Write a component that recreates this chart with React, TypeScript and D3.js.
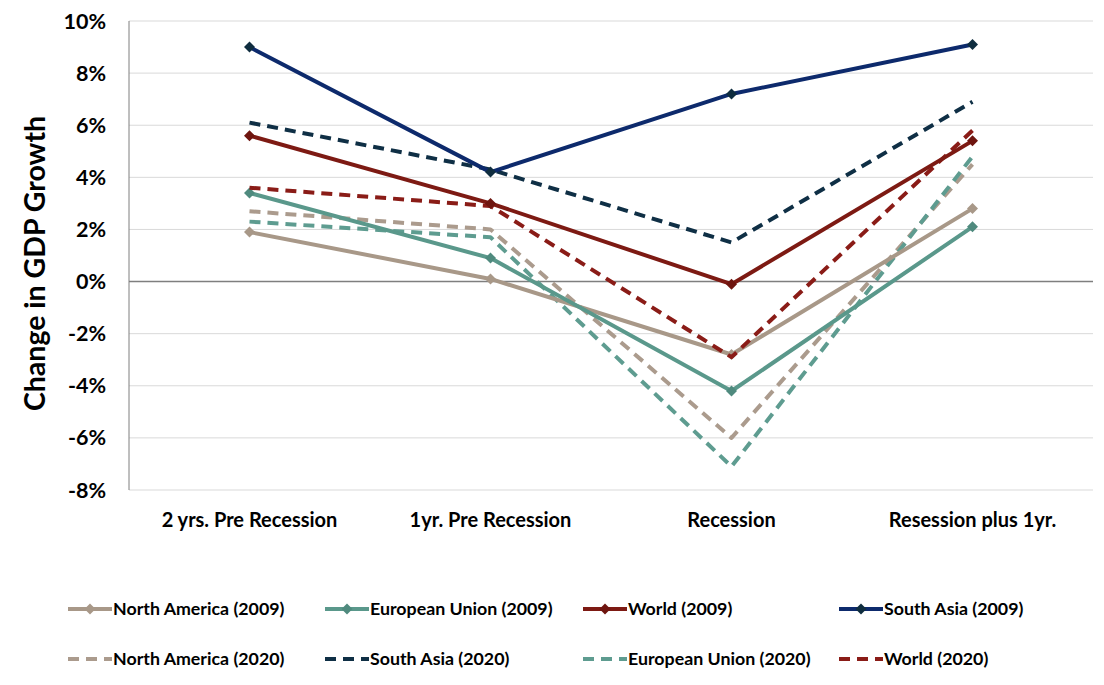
import React from "react";
import * as d3 from "d3";

const categories = ["2 yrs. Pre Recession", "1yr. Pre Recession", "Recession", "Resession plus 1yr."];
const yTicks = [-8, -6, -4, -2, 0, 2, 4, 6, 8, 10];

const naValues2009 = [1.9, 0.1, -2.8, 2.8];
const euValues2009 = [3.4, 0.9, -4.2, 2.1];
const worldValues2009 = [5.6, 3.0, -0.1, 5.4];
const saValues2009 = [9.0, 4.2, 7.2, 9.1];
const naValues2020 = [2.7, 2.0, -6.0, 4.5];
const saValues2020 = [6.1, 4.3, 1.5, 6.9];
const euValues2020 = [2.3, 1.7, -7.1, 4.8];
const worldValues2020 = [3.6, 2.9, -2.9, 5.8];

type Series = { name: string; values: number[]; color: string; marker: string; dashed: boolean };

const drawOrder: Series[] = [
  { name: "North America (2020)", values: naValues2020, color: "#ab9b8d", marker: "", dashed: true },
  { name: "European Union (2020)", values: euValues2020, color: "#5e9c90", marker: "", dashed: true },
  { name: "North America (2009)", values: naValues2009, color: "#a89888", marker: "#a89888", dashed: false },
  { name: "European Union (2009)", values: euValues2009, color: "#5a988b", marker: "#4f8a7e", dashed: false },
  { name: "World (2020)", values: worldValues2020, color: "#8a1c17", marker: "", dashed: true },
  { name: "World (2009)", values: worldValues2009, color: "#7d1a13", marker: "#6e150f", dashed: false },
  { name: "South Asia (2020)", values: saValues2020, color: "#0f2f45", marker: "", dashed: true },
  { name: "South Asia (2009)", values: saValues2009, color: "#0d2a6c", marker: "#0f2d3f", dashed: false },
];

const legendRows: string[][] = [
  ["North America (2009)", "European Union (2009)", "World (2009)", "South Asia (2009)"],
  ["North America (2020)", "South Asia (2020)", "European Union (2020)", "World (2020)"],
];

const W = 1104;
const H = 685;
const left = 129;
const right = 1093;
const top = 21;
const bottom = 490;
const font = "Lato, 'Open Sans', sans-serif";

function diamond(x: number, y: number, r: number) {
  return `M${x},${y - r}L${x + r},${y}L${x},${y + r}L${x - r},${y}Z`;
}

export default function App() {
  const x = d3.scaleBand<string>().domain(categories).range([left, right]);
  const y = d3.scaleLinear().domain([-8, 10]).range([bottom, top]);
  const cx = (c: string) => (x(c) as number) + x.bandwidth() / 2;
  const line = d3
    .line<number>()
    .x((_, i) => cx(categories[i]))
    .y((v) => y(v));
  const byName = new Map(drawOrder.map((s) => [s.name, s]));
  const legendX = [68, 325, 583, 839];
  const legendY = [609, 659];

  return (
    <svg width={W} height={H} style={{ position: "absolute", left: 0, top: 0, background: "#fff" }}>
      <rect x={0} y={0} width={W} height={H} fill="#fff" />
      {yTicks.map((t) => (
        <line key={t} x1={left} x2={right} y1={y(t)} y2={y(t)} stroke="#d9d9d9" strokeWidth={1} />
      ))}
      <line x1={left} x2={right} y1={y(0)} y2={y(0)} stroke="#7f7f7f" strokeWidth={1.5} />
      <line x1={left} x2={left} y1={top} y2={bottom} stroke="#7f7f7f" strokeWidth={1} />
      {yTicks.map((t) => (
        <text key={t} x={106} y={y(t)} dy="0.35em" textAnchor="end" fontFamily={font} fontWeight={700} fontSize={21.5} fill="#000">
          {`${t}%`}
        </text>
      ))}
      <text
        transform={`translate(45,${(top + bottom) / 2 + 8}) rotate(-90)`}
        textAnchor="middle"
        fontFamily={font}
        fontWeight={700}
        fontSize={28.5}
        fill="#000"
      >
        Change in GDP Growth
      </text>
      {categories.map((c) => (
        <text key={c} x={cx(c)} y={527} textAnchor="middle" fontFamily={font} fontWeight={700} fontSize={20} fill="#000">
          {c}
        </text>
      ))}
      {drawOrder.map((s) => (
        <g key={s.name}>
          <path
            d={line(s.values) as string}
            fill="none"
            stroke={s.color}
            strokeWidth={4}
            strokeDasharray={s.dashed ? "11,7" : undefined}
            strokeLinejoin="round"
          />
          {s.marker &&
            s.values.map((v, i) => (
              <path key={i} d={diamond(cx(categories[i]), y(v), 5.5)} fill={s.marker} />
            ))}
        </g>
      ))}
      {legendRows.map((row, ri) =>
        row.map((name, ci) => {
          const s = byName.get(name) as Series;
          const lx = legendX[ci];
          const ly = legendY[ri];
          return (
            <g key={name}>
              {s.dashed ? (
                <path d={`M${lx},${ly}L${lx + 44},${ly}`} stroke={s.color} strokeWidth={4} strokeDasharray="11,7" />
              ) : (
                <>
                  <path d={`M${lx},${ly}L${lx + 44},${ly}`} stroke={s.color} strokeWidth={4} />
                  <path d={diamond(lx + 22, ly, 5.5)} fill={s.marker} />
                </>
              )}
              <text x={lx + 45} y={ly} dy="0.35em" fontFamily={font} fontWeight={700} fontSize={17.8} fill="#000">
                {name}
              </text>
            </g>
          );
        })
      )}
    </svg>
  );
}
